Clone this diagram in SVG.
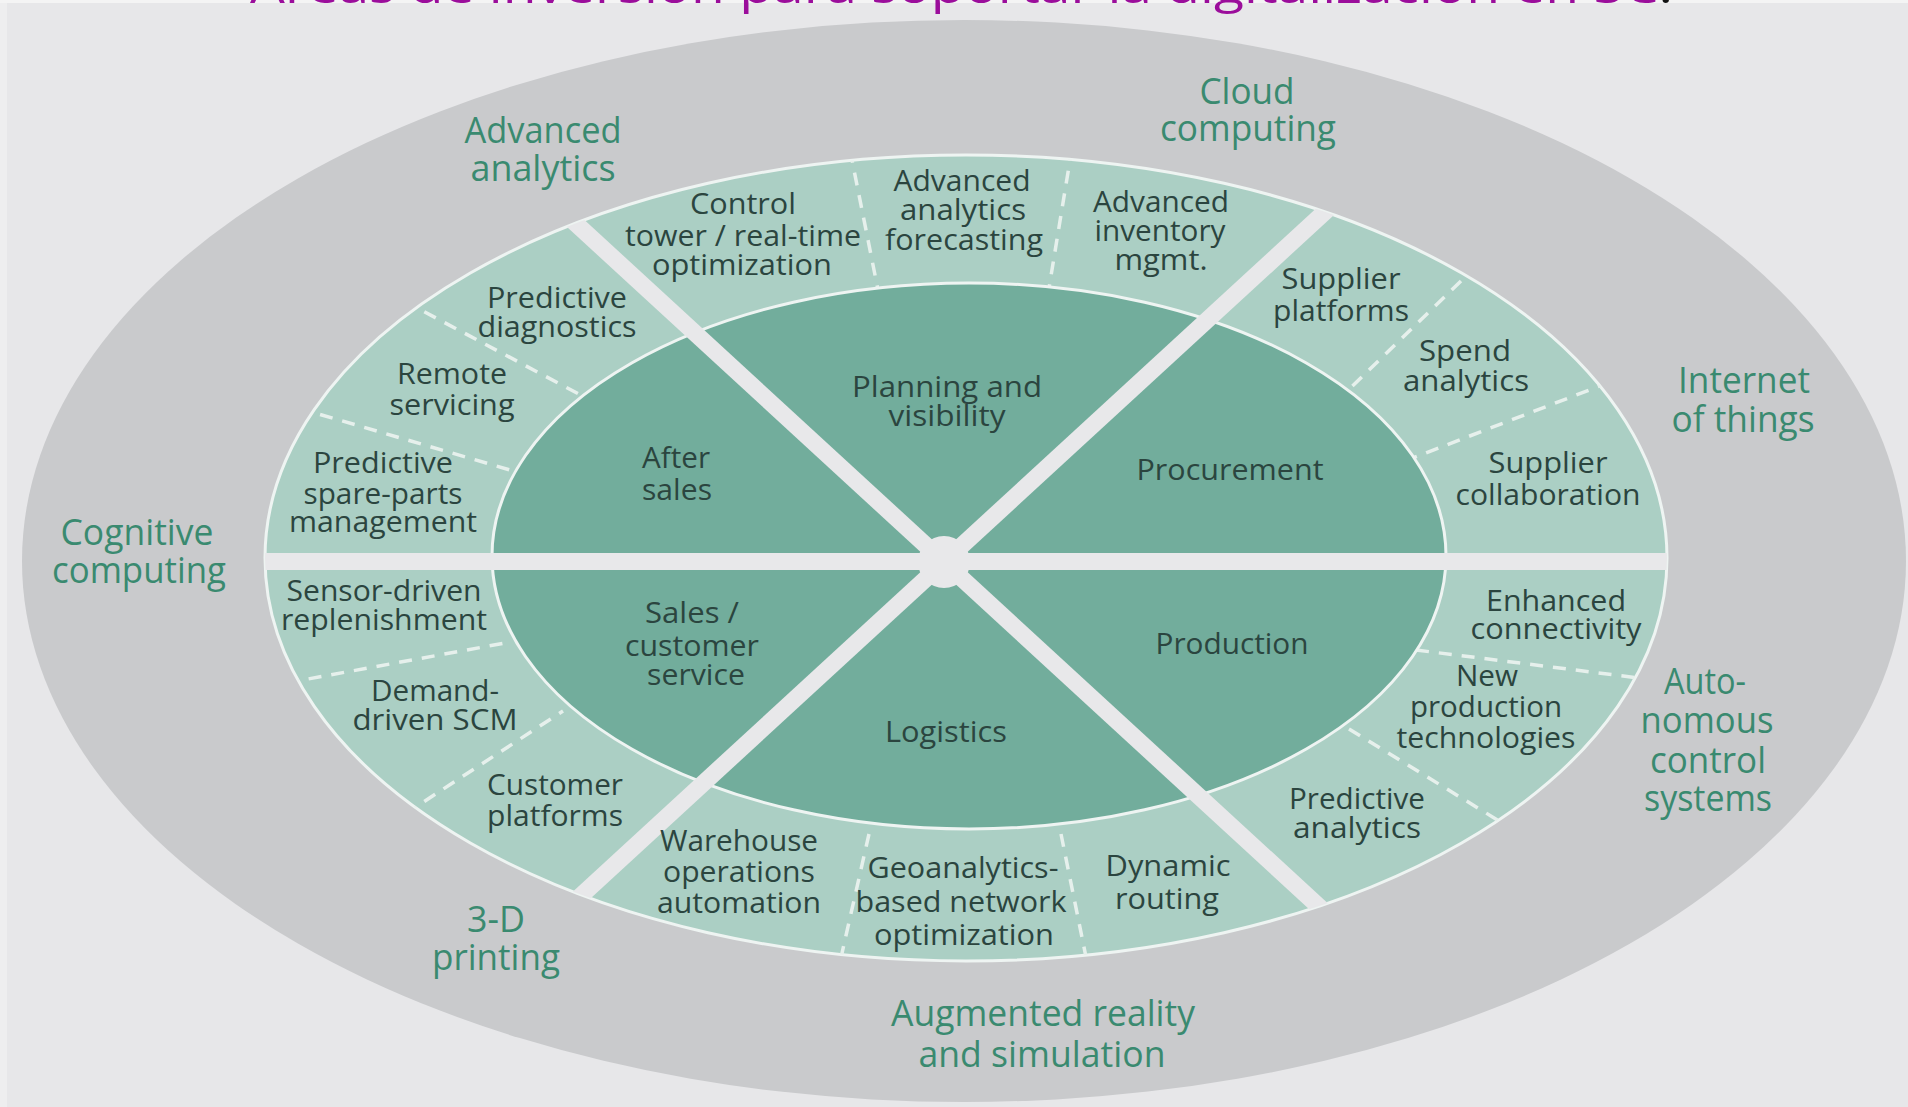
<svg xmlns="http://www.w3.org/2000/svg" width="1908" height="1107" viewBox="0 0 1908 1107">
<defs>
<style>
text{font-family:"Open Sans","Noto Sans","Liberation Sans",sans-serif;text-anchor:middle}
.in{font-size:29px;fill:#2b453f}
.out{font-size:37px;fill:#3a8a70}
.dash{stroke:#e6f0ec;stroke-width:3.5;stroke-dasharray:13 10;fill:none}
.spoke{stroke:#e8e8ea;stroke-width:17;fill:none}
.title{font-size:46px;fill:#9b0d9b;text-anchor:start}
</style>
<clipPath id="ringClip"><ellipse cx="966" cy="558" rx="701" ry="403"/></clipPath>
</defs>
<rect x="0" y="0" width="1908" height="1107" fill="#e7e7e9"/>
<rect x="0" y="0" width="7" height="1107" fill="#eeeeef"/>
<rect x="0" y="0" width="1908" height="3" fill="#f4f4f4"/>
<text class="title" x="250" y="3" textLength="1423" lengthAdjust="spacingAndGlyphs">Áreas de inversión para soportar la digitalización en SC<tspan fill="#111">.</tspan></text>

<g id="technology-ring"><ellipse cx="964" cy="561" rx="942" ry="541" fill="#c9cacc"/></g>
<g id="use-case-ring"><ellipse cx="966" cy="558" rx="701" ry="403" fill="#abcfc4" stroke="#eef4f2" stroke-width="3"/></g>

<g id="dividers" clip-path="url(#ringClip)">
<line class="dash" x1="850" y1="150" x2="878" y2="290"/>
<line class="dash" x1="1072" y1="148" x2="1049" y2="288"/>
<line class="dash" x1="404" y1="301" x2="590" y2="400"/>
<line class="dash" x1="298" y1="408" x2="517" y2="472"/>
<line class="dash" x1="1461" y1="281" x2="1340" y2="398"/>
<line class="dash" x1="1610" y1="382" x2="1410" y2="459"/>
<line class="dash" x1="286" y1="683" x2="505" y2="643"/>
<line class="dash" x1="405" y1="814" x2="563" y2="711"/>
<line class="dash" x1="869" y1="834" x2="840" y2="962"/>
<line class="dash" x1="1061" y1="834" x2="1087" y2="962"/>
<line class="dash" x1="1416" y1="650" x2="1647" y2="679"/>
<line class="dash" x1="1349" y1="729" x2="1504" y2="824"/>
</g>

<g id="function-core"><ellipse cx="969" cy="556" rx="477" ry="273" fill="#72ad9c" stroke="#eef4f2" stroke-width="3"/></g>

<g id="connectors" clip-path="url(#ringClip)">
<line class="spoke" x1="240" y1="561.5" x2="1690" y2="561.5"/>
<line class="spoke" x1="424" y1="84" x2="1464" y2="1040"/>
<line class="spoke" x1="1464" y1="84" x2="424" y2="1040"/>
<circle cx="944" cy="562" r="26" fill="#e8e8ea"/>
</g>

<g id="sector-planning">
<text class="in" x="947" y="397" textLength="190" lengthAdjust="spacingAndGlyphs">Planning and</text>
<text class="in" x="947" y="426" textLength="117" lengthAdjust="spacingAndGlyphs">visibility</text>
</g>
<g id="sector-procurement">
<text class="in" x="1230" y="480" textLength="187" lengthAdjust="spacingAndGlyphs">Procurement</text>
</g>
<g id="sector-production">
<text class="in" x="1232" y="654" textLength="153" lengthAdjust="spacingAndGlyphs">Production</text>
</g>
<g id="sector-logistics">
<text class="in" x="946" y="742" textLength="122" lengthAdjust="spacingAndGlyphs">Logistics</text>
</g>
<g id="sector-sales">
<text class="in" x="692" y="623" textLength="94" lengthAdjust="spacingAndGlyphs">Sales /</text>
<text class="in" x="692" y="656" textLength="134" lengthAdjust="spacingAndGlyphs">customer</text>
<text class="in" x="696" y="685" textLength="98" lengthAdjust="spacingAndGlyphs">service</text>
</g>
<g id="sector-after-sales">
<text class="in" x="676" y="468" textLength="68" lengthAdjust="spacingAndGlyphs">After</text>
<text class="in" x="677" y="500" textLength="70" lengthAdjust="spacingAndGlyphs">sales</text>
</g>

<g id="item-control-tower">
<text class="in" x="743" y="214" textLength="106" lengthAdjust="spacingAndGlyphs">Control</text>
<text class="in" x="743" y="246" textLength="236" lengthAdjust="spacingAndGlyphs">tower / real-time</text>
<text class="in" x="742" y="275" textLength="180" lengthAdjust="spacingAndGlyphs">optimization</text>
</g>
<g id="item-analytics-forecasting">
<text class="in" x="962" y="191" textLength="137" lengthAdjust="spacingAndGlyphs">Advanced</text>
<text class="in" x="963" y="220" textLength="126" lengthAdjust="spacingAndGlyphs">analytics</text>
<text class="in" x="964" y="250" textLength="158" lengthAdjust="spacingAndGlyphs">forecasting</text>
</g>
<g id="item-inventory">
<text class="in" x="1161" y="212" textLength="136" lengthAdjust="spacingAndGlyphs">Advanced</text>
<text class="in" x="1160" y="241" textLength="131" lengthAdjust="spacingAndGlyphs">inventory</text>
<text class="in" x="1161" y="270" textLength="93" lengthAdjust="spacingAndGlyphs">mgmt.</text>
</g>
<g id="item-supplier-platforms">
<text class="in" x="1341" y="289" textLength="119" lengthAdjust="spacingAndGlyphs">Supplier</text>
<text class="in" x="1341" y="321" textLength="136" lengthAdjust="spacingAndGlyphs">platforms</text>
</g>
<g id="item-spend-analytics">
<text class="in" x="1465" y="361" textLength="92" lengthAdjust="spacingAndGlyphs">Spend</text>
<text class="in" x="1466" y="391" textLength="126" lengthAdjust="spacingAndGlyphs">analytics</text>
</g>
<g id="item-supplier-collaboration">
<text class="in" x="1548" y="473" textLength="119" lengthAdjust="spacingAndGlyphs">Supplier</text>
<text class="in" x="1548" y="505" textLength="185" lengthAdjust="spacingAndGlyphs">collaboration</text>
</g>
<g id="item-enhanced-connectivity">
<text class="in" x="1556" y="611" textLength="140" lengthAdjust="spacingAndGlyphs">Enhanced</text>
<text class="in" x="1556" y="639" textLength="171" lengthAdjust="spacingAndGlyphs">connectivity</text>
</g>
<g id="item-new-production">
<text class="in" x="1487" y="686" textLength="62" lengthAdjust="spacingAndGlyphs">New</text>
<text class="in" x="1486" y="717" textLength="152" lengthAdjust="spacingAndGlyphs">production</text>
<text class="in" x="1486" y="748" textLength="179" lengthAdjust="spacingAndGlyphs">technologies</text>
</g>
<g id="item-predictive-analytics">
<text class="in" x="1357" y="809" textLength="136" lengthAdjust="spacingAndGlyphs">Predictive</text>
<text class="in" x="1357" y="838" textLength="128" lengthAdjust="spacingAndGlyphs">analytics</text>
</g>
<g id="item-dynamic-routing">
<text class="in" x="1168" y="876" textLength="125" lengthAdjust="spacingAndGlyphs">Dynamic</text>
<text class="in" x="1167" y="909" textLength="104" lengthAdjust="spacingAndGlyphs">routing</text>
</g>
<g id="item-geoanalytics">
<text class="in" x="963" y="878" textLength="191" lengthAdjust="spacingAndGlyphs">Geoanalytics-</text>
<text class="in" x="961" y="912" textLength="211" lengthAdjust="spacingAndGlyphs">based network</text>
<text class="in" x="964" y="945" textLength="180" lengthAdjust="spacingAndGlyphs">optimization</text>
</g>
<g id="item-warehouse">
<text class="in" x="739" y="851" textLength="158" lengthAdjust="spacingAndGlyphs">Warehouse</text>
<text class="in" x="739" y="882" textLength="152" lengthAdjust="spacingAndGlyphs">operations</text>
<text class="in" x="739" y="913" textLength="164" lengthAdjust="spacingAndGlyphs">automation</text>
</g>
<g id="item-customer-platforms">
<text class="in" x="555" y="795" textLength="136" lengthAdjust="spacingAndGlyphs">Customer</text>
<text class="in" x="555" y="826" textLength="136" lengthAdjust="spacingAndGlyphs">platforms</text>
</g>
<g id="item-demand-driven">
<text class="in" x="435" y="701" textLength="128" lengthAdjust="spacingAndGlyphs">Demand-</text>
<text class="in" x="435" y="730" textLength="165" lengthAdjust="spacingAndGlyphs">driven SCM</text>
</g>
<g id="item-sensor-driven">
<text class="in" x="384" y="601" textLength="195" lengthAdjust="spacingAndGlyphs">Sensor-driven</text>
<text class="in" x="384" y="630" textLength="206" lengthAdjust="spacingAndGlyphs">replenishment</text>
</g>
<g id="item-spare-parts">
<text class="in" x="383" y="473" textLength="140" lengthAdjust="spacingAndGlyphs">Predictive</text>
<text class="in" x="383" y="504" textLength="159" lengthAdjust="spacingAndGlyphs">spare-parts</text>
<text class="in" x="383" y="532" textLength="188" lengthAdjust="spacingAndGlyphs">management</text>
</g>
<g id="item-remote-servicing">
<text class="in" x="452" y="384" textLength="110" lengthAdjust="spacingAndGlyphs">Remote</text>
<text class="in" x="452" y="415" textLength="125" lengthAdjust="spacingAndGlyphs">servicing</text>
</g>
<g id="item-predictive-diagnostics">
<text class="in" x="557" y="308" textLength="140" lengthAdjust="spacingAndGlyphs">Predictive</text>
<text class="in" x="557" y="337" textLength="159" lengthAdjust="spacingAndGlyphs">diagnostics</text>
</g>

<g id="tech-advanced-analytics">
<text class="out" x="543" y="143" textLength="157" lengthAdjust="spacingAndGlyphs">Advanced</text>
<text class="out" x="543" y="181" textLength="145" lengthAdjust="spacingAndGlyphs">analytics</text>
</g>
<g id="tech-cloud">
<text class="out" x="1247" y="104" textLength="95" lengthAdjust="spacingAndGlyphs">Cloud</text>
<text class="out" x="1248" y="141" textLength="176" lengthAdjust="spacingAndGlyphs">computing</text>
</g>
<g id="tech-iot">
<text class="out" x="1744" y="393" textLength="132" lengthAdjust="spacingAndGlyphs">Internet</text>
<text class="out" x="1743" y="432" textLength="143" lengthAdjust="spacingAndGlyphs">of things</text>
</g>
<g id="tech-autonomous">
<text class="out" x="1705" y="694" textLength="82" lengthAdjust="spacingAndGlyphs">Auto-</text>
<text class="out" x="1707" y="733" textLength="133" lengthAdjust="spacingAndGlyphs">nomous</text>
<text class="out" x="1708" y="773" textLength="116" lengthAdjust="spacingAndGlyphs">control</text>
<text class="out" x="1708" y="811" textLength="128" lengthAdjust="spacingAndGlyphs">systems</text>
</g>
<g id="tech-ar">
<text class="out" x="1043" y="1026" textLength="304" lengthAdjust="spacingAndGlyphs">Augmented reality</text>
<text class="out" x="1042" y="1067" textLength="247" lengthAdjust="spacingAndGlyphs">and simulation</text>
</g>
<g id="tech-3d">
<text class="out" x="496" y="932" textLength="58" lengthAdjust="spacingAndGlyphs">3-D</text>
<text class="out" x="496" y="970" textLength="128" lengthAdjust="spacingAndGlyphs">printing</text>
</g>
<g id="tech-cognitive">
<text class="out" x="137" y="545" textLength="153" lengthAdjust="spacingAndGlyphs">Cognitive</text>
<text class="out" x="139" y="583" textLength="174" lengthAdjust="spacingAndGlyphs">computing</text>
</g>
</svg>
